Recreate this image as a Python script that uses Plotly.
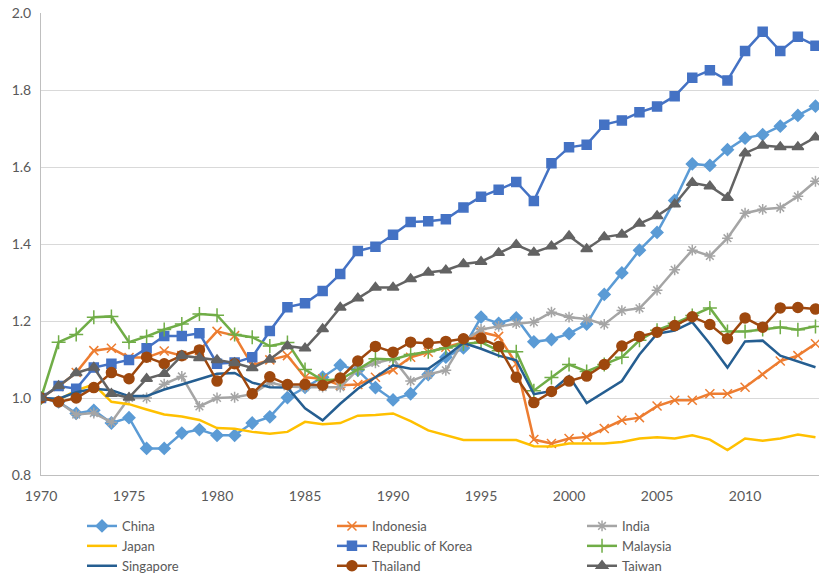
import plotly.graph_objects as go

years = list(range(1970, 2015))

china = [1.0, 0.99, 0.96, 0.968, 0.935, 0.949, 0.869, 0.869, 0.909, 0.918, 0.903, 0.903, 0.935, 0.951,
         1.001, 1.028, 1.054, 1.085, 1.072, 1.027, 0.995, 1.011, 1.061, 1.106, 1.130, 1.210, 1.194, 1.208,
         1.146, 1.152, 1.167, 1.192, 1.269, 1.325, 1.384, 1.430, 1.513, 1.608, 1.604, 1.645, 1.675, 1.684,
         1.706, 1.734, 1.758]
indonesia = [1.0, 1.03, 1.066, 1.123, 1.129, 1.105, 1.105, 1.122, 1.110, 1.123, 1.173, 1.162, 1.085, 1.099,
             1.110, 1.054, 1.050, 1.033, 1.035, 1.054, 1.073, 1.106, 1.119, 1.132, 1.145, 1.171, 1.160, 1.089,
             0.892, 0.882, 0.895, 0.899, 0.921, 0.942, 0.949, 0.979, 0.994, 0.994, 1.011, 1.011, 1.028, 1.061,
             1.096, 1.110, 1.141]
india = [1.0, 0.99, 0.957, 0.961, 0.937, 1.0, 1.0, 1.036, 1.056, 0.978, 1.0, 1.002, 1.01, 1.04,
         1.03, 1.028, 1.028, 1.028, 1.074, 1.091, 1.102, 1.044, 1.061, 1.072, 1.147, 1.178, 1.186, 1.193,
         1.197, 1.223, 1.210, 1.205, 1.191, 1.227, 1.233, 1.280, 1.333, 1.384, 1.369, 1.415, 1.480, 1.490,
         1.494, 1.524, 1.563]
japan = [1.0, 0.995, 1.02, 1.035, 0.99, 0.984, 0.97, 0.957, 0.952, 0.943, 0.922, 0.92, 0.912, 0.907,
         0.912, 0.938, 0.932, 0.935, 0.954, 0.956, 0.96, 0.94, 0.916, 0.903, 0.891, 0.891, 0.891, 0.891,
         0.875, 0.874, 0.882, 0.882, 0.882, 0.886, 0.895, 0.898, 0.895, 0.903, 0.892, 0.865, 0.895, 0.889,
         0.895, 0.905, 0.898]
korea = [1.0, 1.031, 1.024, 1.079, 1.089, 1.099, 1.129, 1.161, 1.161, 1.168, 1.089, 1.092, 1.106, 1.174,
         1.236, 1.246, 1.278, 1.322, 1.382, 1.393, 1.424, 1.457, 1.459, 1.464, 1.495, 1.523, 1.541, 1.561,
         1.512, 1.610, 1.651, 1.658, 1.710, 1.721, 1.742, 1.757, 1.784, 1.832, 1.851, 1.825, 1.901, 1.951,
         1.901, 1.938, 1.915]
malaysia = [1.0, 1.145, 1.165, 1.21, 1.212, 1.145, 1.16, 1.178, 1.192, 1.218, 1.215, 1.165, 1.158, 1.135,
            1.144, 1.074, 1.046, 1.048, 1.074, 1.102, 1.10, 1.113, 1.12, 1.130, 1.14, 1.145, 1.123, 1.12,
            1.019, 1.053, 1.087, 1.069, 1.087, 1.106, 1.150, 1.176, 1.194, 1.214, 1.234, 1.173, 1.173, 1.178,
            1.184, 1.177, 1.186]
singapore = [1.0, 0.998, 1.015, 1.024, 1.02, 1.005, 1.005, 1.022, 1.035, 1.05, 1.063, 1.065, 1.04, 1.028,
             1.027, 0.973, 0.942, 0.985, 1.024, 1.054, 1.085, 1.076, 1.076, 1.108, 1.143, 1.128, 1.110, 1.098,
             1.01, 1.018, 1.057, 0.987, 1.016, 1.044, 1.113, 1.167, 1.175, 1.197, 1.141, 1.079, 1.147, 1.149,
             1.110, 1.096, 1.080]
thailand = [1.0, 0.99, 1.0, 1.027, 1.066, 1.05, 1.106, 1.089, 1.11, 1.125, 1.044, 1.089, 1.011, 1.055,
            1.035, 1.035, 1.033, 1.052, 1.096, 1.134, 1.119, 1.145, 1.142, 1.147, 1.154, 1.155, 1.134, 1.054,
            0.988, 1.017, 1.044, 1.057, 1.087, 1.135, 1.160, 1.171, 1.188, 1.211, 1.191, 1.154, 1.208, 1.184,
            1.234, 1.235, 1.231]
taiwan = [1.0, 1.031, 1.065, 1.079, 1.011, 1.001, 1.050, 1.063, 1.110, 1.104, 1.099, 1.091, 1.078, 1.100,
          1.135, 1.129, 1.179, 1.235, 1.259, 1.287, 1.287, 1.309, 1.326, 1.332, 1.348, 1.354, 1.377, 1.398,
          1.378, 1.394, 1.421, 1.387, 1.418, 1.425, 1.453, 1.473, 1.503, 1.559, 1.550, 1.520, 1.636, 1.656,
          1.652, 1.652, 1.677]

series = [
    ("China", china, "#5B9BD5", "diamond", 9),
    ("Indonesia", indonesia, "#ED7D31", "x-thin-open", 9),
    ("India", india, "#A5A5A5", "asterisk-open", 9),
    ("Japan", japan, "#FFC000", None, 0),
    ("Republic of Korea", korea, "#4472C4", "square", 9),
    ("Malaysia", malaysia, "#70AD47", "cross-thin-open", 10),
    ("Singapore", singapore, "#255E91", None, 0),
    ("Thailand", thailand, "#9E480E", "circle", 10),
    ("Taiwan", taiwan, "#636363", "triangle-up", 10),
]
legend_ids = ["legend", "legend2", "legend3"]

fig = go.Figure()
for i, (name, vals, color, sym, size) in enumerate(series):
    lg = legend_ids[i % 3]
    if sym is None:
        fig.add_trace(go.Scatter(x=years, y=vals, name=name, mode="lines", legend=lg,
                                 line=dict(color=color, width=2.5)))
    else:
        fig.add_trace(go.Scatter(x=years, y=vals, name=name, mode="lines+markers", legend=lg,
                                 line=dict(color=color, width=2.5),
                                 marker=dict(symbol=sym, size=size, color=color,
                                             line=dict(color=color, width=1.5))))

font = dict(family="Lato, Open Sans, sans-serif", size=14, color="#595959")
legend_font = dict(family="Lato, Open Sans, sans-serif", size=13, color="#595959")


def make_legend(x):
    return dict(orientation="v", xref="paper", yref="container", x=x, xanchor="left",
                y=0.1113, yanchor="top", font=legend_font, tracegroupgap=0, itemwidth=30,
                bgcolor="rgba(0,0,0,0)", borderwidth=0)


fig.update_layout(
    width=819, height=575,
    margin=dict(l=41, r=0, t=13, b=100),
    plot_bgcolor="white", paper_bgcolor="white",
    font=font,
    showlegend=True,
    legend=make_legend(0.0527),
    legend2=make_legend(0.374),
    legend3=make_legend(0.6954),
)
fig.update_xaxes(range=[1970, 2014.2], tick0=1970, dtick=5, showgrid=False,
                 showline=True, linecolor="#BFBFBF", linewidth=1,
                 ticks="outside", ticklen=8, tickcolor="rgba(0,0,0,0)", zeroline=False)
fig.update_yaxes(range=[0.8, 2.0], dtick=0.2, tickformat=".1f", showgrid=True,
                 gridcolor="#D9D9D9", gridwidth=1, showline=True, linecolor="#BFBFBF",
                 linewidth=1, ticks="outside", ticklen=6, tickcolor="rgba(0,0,0,0)", zeroline=False)

fig.write_html("out.html", config={"displayModeBar": False},
               post_script="document.body.style.margin='0';")
